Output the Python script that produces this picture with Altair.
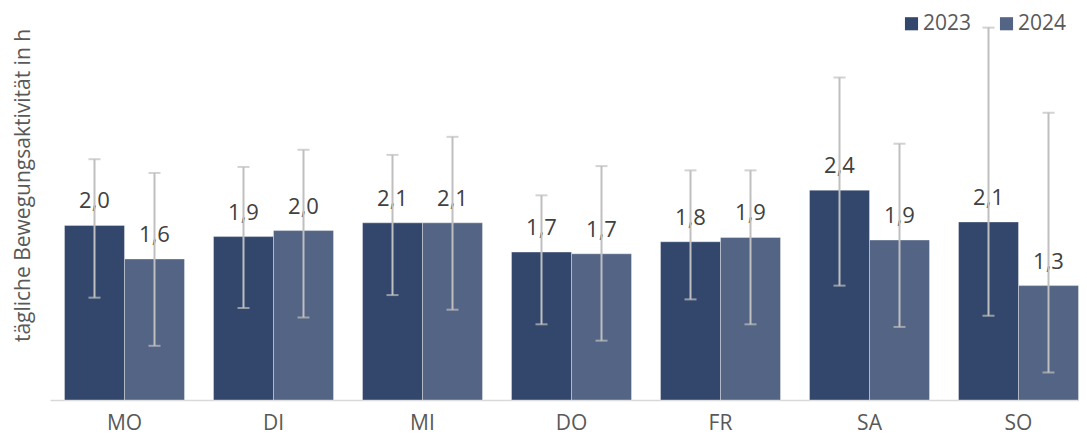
import altair as alt
import pandas as pd

days = ["MO", "DI", "MI", "DO", "FR", "SA", "SO"]
years = ["2023", "2024"]
v2023 = [2.03, 1.90, 2.06, 1.72, 1.84, 2.44, 2.07]
v2024 = [1.64, 1.97, 2.06, 1.70, 1.89, 1.86, 1.33]
lo2023 = [1.19, 1.07, 1.22, 0.88, 1.17, 1.33, 0.98]
hi2023 = [2.80, 2.71, 2.85, 2.38, 2.67, 3.75, 4.33]
lo2024 = [0.63, 0.96, 1.05, 0.69, 0.88, 0.85, 0.32]
hi2024 = [2.64, 2.91, 3.06, 2.72, 2.67, 2.98, 3.34]
colors = ["#33476C", "#536484"]

rows = []
for yr, vals, los, his in [("2023", v2023, lo2023, hi2023), ("2024", v2024, lo2024, hi2024)]:
    for d, v, lo, hi in zip(days, vals, los, his):
        rows.append({"day": d, "year": yr, "value": v, "lo": lo, "hi": hi,
                     "label": f"{v:.1f}".replace(".", ",")})
df = pd.DataFrame(rows)

FONT = "Open Sans"

x = alt.X("day:N", sort=days, title=None,
          scale=alt.Scale(paddingInner=0.1946, paddingOuter=0.0503, align=0.967),
          axis=alt.Axis(labelAngle=0, labelFontSize=21, labelColor="#595959", labelFont=FONT,
                        ticks=False, domainColor="#D9D9D9", domainWidth=1.5, labelPadding=12))
xo = alt.XOffset("year:N", sort=years, scale=alt.Scale(paddingInner=0, paddingOuter=0))
yscale = alt.Scale(domain=[0, 4.5], nice=False, zero=True)

base = alt.Chart(df)

bars = base.mark_bar(stroke="#FFFFFF", strokeWidth=1, strokeOpacity=0.35).encode(
    x=x, xOffset=xo,
    y=alt.Y("value:Q", scale=yscale,
            axis=alt.Axis(title="tägliche Bewegungsaktivität in h", labels=False, ticks=False,
                          domain=False, grid=False, titleFont=FONT, titleFontSize=21,
                          titleFontWeight="normal", titleColor="#595959", titleAngle=270,
                          titleX=-27, titleY=172, titleAlign="center", titleBaseline="middle")),
    color=alt.Color("year:N", sort=years,
                    scale=alt.Scale(domain=years, range=colors),
                    legend=alt.Legend(title=None, orient="none", legendX=851, legendY=0,
                                      padding=0, direction="horizontal", symbolType="square",
                                      symbolSize=172, symbolStrokeWidth=0,
                                      labelFontSize=21, labelFont=FONT, labelColor="#595959",
                                      labelOffset=1, columnPadding=24)),
)

labels = base.mark_text(fontSize=22, font=FONT, color="#404040", baseline="alphabetic",
                        align="center", dy=-17).encode(
    x=x, xOffset=xo, y=alt.Y("value:Q", scale=yscale), text="label:N")

rules = base.mark_rule(color="#BFBFBF", strokeWidth=2).encode(
    x=x, xOffset=xo, y=alt.Y("lo:Q", scale=yscale), y2="hi:Q")

caps_lo = base.mark_tick(color="#BFBFBF", thickness=2, size=12, orient="horizontal").encode(
    x=x, xOffset=xo, y=alt.Y("lo:Q", scale=yscale))
caps_hi = base.mark_tick(color="#BFBFBF", thickness=2, size=12, orient="horizontal").encode(
    x=x, xOffset=xo, y=alt.Y("hi:Q", scale=yscale))

chart = alt.layer(bars, labels, rules, caps_lo, caps_hi).properties(
    width=1029, height=387,
    background="white",
    autosize=alt.AutoSizeParams(type="none"),
    padding={"left": 42, "top": 5, "right": 0, "bottom": 37},
).configure_view(stroke=None)

chart.save("out.html", embed_options={"renderer": "svg", "actions": False})
